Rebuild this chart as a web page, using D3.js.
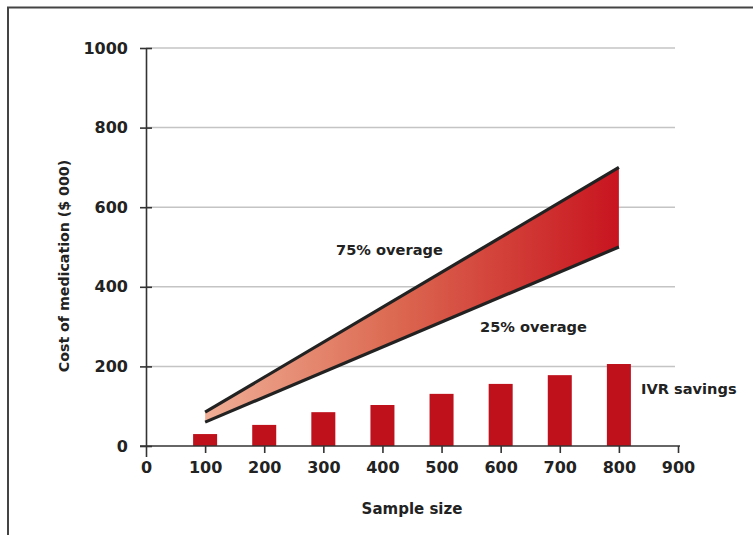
<!DOCTYPE html>
<html><head><meta charset="utf-8">
<script src="https://cdn.jsdelivr.net/npm/d3@7"></script>
<style>body{margin:0;background:#fff}svg{display:block}text{font-family:"DejaVu Sans",sans-serif;font-weight:bold;fill:#222}</style>
</head><body>
<script>
const sampleSizes = [100,200,300,400,500,600,700,800];
const ivrSavings = [30,53,85,103,131,156,178,206];
const bandX = [100,800];
const overage75 = [85,700];
const overage25 = [60,500];
const xTicks = [0,100,200,300,400,500,600,700,800,900];
const yTicks = [0,200,400,600,800,1000];

const W=753,H=535;
const svg=d3.select("body").append("svg").attr("width",W).attr("height",H);
// frame
svg.append("path").attr("d","M8,535V7.5H753").attr("fill","none").attr("stroke","#444").attr("stroke-width",2);

const x=d3.scaleLinear().domain([0,900]).range([146,678]);
const y=d3.scaleLinear().domain([0,1000]).range([446,48]);

// gridlines
svg.append("g").selectAll("line").data(yTicks.filter(d=>d>0)).join("line")
  .attr("x1",x(0)).attr("x2",675).attr("y1",d=>y(d)).attr("y2",d=>y(d))
  .attr("stroke","#c4c4c4").attr("stroke-width",1.5);

// band
const defs=svg.append("defs");
const grad=defs.append("linearGradient").attr("id","g").attr("gradientUnits","userSpaceOnUse")
  .attr("x1",x(100)).attr("x2",x(800)).attr("y1",0).attr("y2",0);
grad.append("stop").attr("offset","0").attr("stop-color","#f0ae96");
grad.append("stop").attr("offset","0.45").attr("stop-color","#dc6a52");
grad.append("stop").attr("offset","1").attr("stop-color","#c8141f");
const bandData=bandX.map((v,i)=>({x:v,hi:overage75[i],lo:overage25[i]}));
svg.append("path").datum(bandData)
  .attr("d",d3.area().x(d=>x(d.x)).y0(d=>y(d.lo)).y1(d=>y(d.hi)))
  .attr("fill","url(#g)");
const line=d3.line().x(d=>x(d[0])).y(d=>y(d[1]));
[overage75,overage25].forEach(s=>{
  svg.append("path").datum(bandX.map((v,i)=>[v,s[i]])).attr("d",line)
    .attr("fill","none").attr("stroke","#222").attr("stroke-width",3.2);
});

// bars
const bw=24;
svg.append("g").selectAll("rect").data(sampleSizes).join("rect")
  .attr("x",d=>x(d)-bw/2).attr("width",bw)
  .attr("y",(d,i)=>y(ivrSavings[i])).attr("height",(d,i)=>y(0)-y(ivrSavings[i]))
  .attr("fill","#be111c");

// axes
const xa=svg.append("g").attr("transform",`translate(0,${y(0)})`)
  .call(d3.axisBottom(x).tickValues(xTicks).tickFormat(d3.format("d")).tickSize(7).tickPadding(5).tickSizeOuter(0));
xa.select(".domain").attr("d",`M140,0H680`).attr("stroke","#333").attr("stroke-width",1.6);
xa.selectAll(".tick line").attr("stroke","#333").attr("stroke-width",1.6);
xa.selectAll(".tick").filter(d=>d===0).select("line").attr("y2",11);
xa.selectAll("text").attr("font-size",16).attr("dy","0.95em").style("font-family","DejaVu Sans").style("font-weight","bold").attr("fill","#222");

const ya=svg.append("g").attr("transform",`translate(${x(0)},0)`)
  .call(d3.axisLeft(y).tickValues(yTicks).tickFormat(d3.format("d")).tickSize(6).tickPadding(12).tickSizeOuter(0));
ya.select(".domain").attr("stroke","#333").attr("stroke-width",1.6);
ya.selectAll(".tick line").attr("x1",6).attr("stroke","#333").attr("stroke-width",1.6);
ya.selectAll("text").attr("font-size",16).style("font-family","DejaVu Sans").style("font-weight","bold").attr("fill","#222");

// labels
svg.append("text").attr("x",412).attr("y",514).attr("text-anchor","middle").attr("font-size",15).text("Sample size");
svg.append("text").attr("transform","translate(69,266) rotate(-90)").attr("text-anchor","middle").attr("font-size",14.2).text("Cost of medication ($ 000)");
svg.append("text").attr("x",336).attr("y",255).attr("font-size",14.6).text("75% overage");
svg.append("text").attr("x",480).attr("y",332).attr("font-size",14.6).text("25% overage");
svg.append("text").attr("x",641).attr("y",394).attr("font-size",14.6).text("IVR savings");
</script>
</body></html>
